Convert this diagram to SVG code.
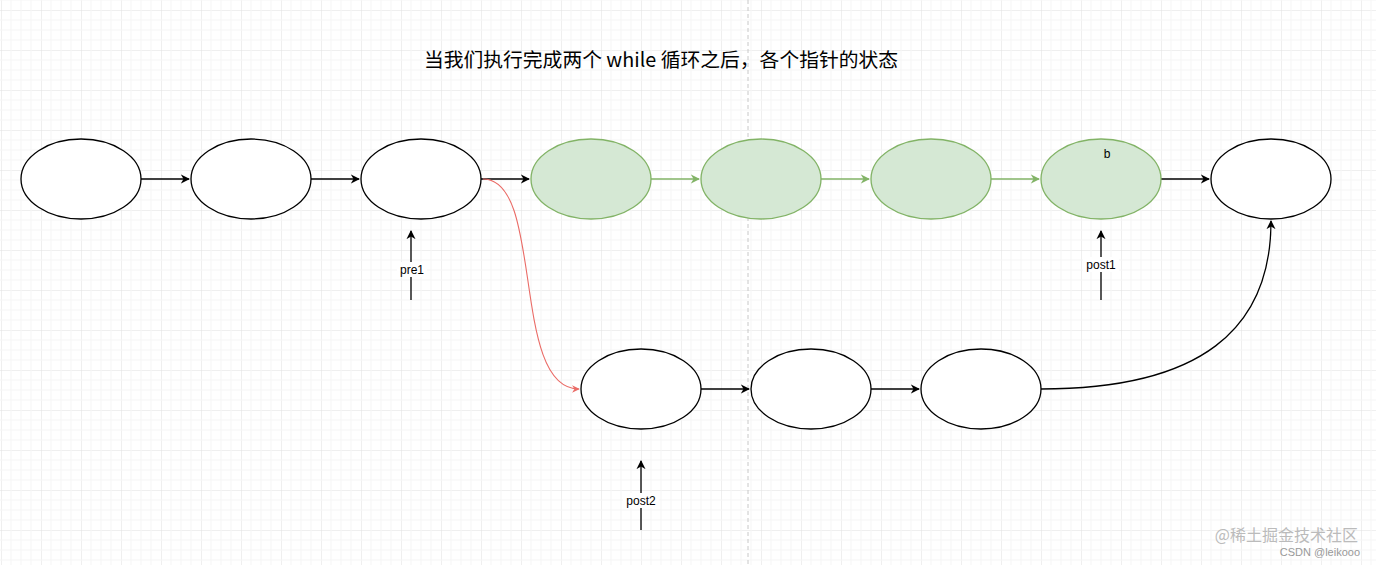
<svg xmlns="http://www.w3.org/2000/svg" width="1376" height="565" viewBox="0 0 1376 565">
<defs>
<pattern id="g" x="1" y="10" width="40" height="40" patternUnits="userSpaceOnUse">
<path d="M0 0H40M0 0V40" fill="none" stroke="#e0e0e0" stroke-width="1"/>
<path d="M0 10H40M0 20H40M0 30H40M10 0V40M20 0V40M30 0V40" fill="none" stroke="#f5f5f5" stroke-width="1"/>
</pattern>
<marker id="a" viewBox="0 0 10 10" refX="9" refY="5" markerWidth="7" markerHeight="7" orient="auto"><path d="M0 0L10 5L0 10L3 5Z" fill="#000"/></marker>
<marker id="ag" viewBox="0 0 10 10" refX="9" refY="5" markerWidth="7" markerHeight="7" orient="auto"><path d="M0 0L10 5L0 10L3 5Z" fill="#82b366"/></marker>
<marker id="ar" viewBox="0 0 10 10" refX="9" refY="5" markerWidth="7" markerHeight="7" orient="auto"><path d="M0 0L10 5L0 10L3 5Z" fill="#ea6b66"/></marker>
</defs>
<style>
.n{fill:#fff;stroke:#000;stroke-width:1.3}
.gn{fill:#d5e8d4;stroke:#82b366;stroke-width:1.3}
.c{fill:none;stroke:#000;stroke-width:1.3;marker-end:url(#a)}
.cg{fill:none;stroke:#82b366;stroke-width:1.3;marker-end:url(#ag)}
.t{font-family:"Liberation Sans","Noto Sans CJK SC",sans-serif;font-size:12px;fill:#000;text-anchor:middle}
</style>
<rect width="1376" height="565" fill="#fff"/>
<rect width="1376" height="565" fill="url(#g)"/>
<line x1="748" y1="0" x2="748" y2="565" stroke="#c8c8c8" stroke-dasharray="4 3"/>
<text x="661" y="67" font-family="'Noto Sans CJK SC',sans-serif" font-size="19.8" text-anchor="middle" fill="#000">当我们执行完成两个 while 循环之后，各个指针的状态</text>
<g id="connectors">
<path class="c" d="M141 179H189"/>
<path class="c" d="M311 179H359"/>
<path class="c" d="M481 179H529"/>
<path class="cg" d="M651 179H699"/>
<path class="cg" d="M821 179H869"/>
<path class="cg" d="M991 179H1039"/>
<path class="c" d="M1161 179H1209"/>
<path class="c" d="M701 389H749"/>
<path class="c" d="M871 389H919"/>
<path d="M483 179C545 179 510 389 579 389" fill="none" stroke="#ea6b66" stroke-width="1.1" marker-end="url(#ar)"/>
<path class="c" d="M1041 389C1200 389 1271 330 1271 221"/>
<path class="c" d="M411 300V231"/>
<path class="c" d="M1101 300V231"/>
<path class="c" d="M641 530V461"/>
</g>
<g id="n1"><ellipse class="n" cx="81" cy="179" rx="60" ry="40"/></g>
<g id="n2"><ellipse class="n" cx="251" cy="179" rx="60" ry="40"/></g>
<g id="n3"><ellipse class="n" cx="421" cy="179" rx="60" ry="40"/></g>
<g id="n4"><ellipse class="gn" cx="591" cy="179" rx="60" ry="40"/></g>
<g id="n5"><ellipse class="gn" cx="761" cy="179" rx="60" ry="40"/></g>
<g id="n6"><ellipse class="gn" cx="931" cy="179" rx="60" ry="40"/></g>
<g id="n7"><ellipse class="gn" cx="1101" cy="179" rx="60" ry="40"/><text class="t" x="1107" y="158">b</text></g>
<g id="n8"><ellipse class="n" cx="1271" cy="179" rx="60" ry="40"/></g>
<g id="n9"><ellipse class="n" cx="641" cy="389" rx="60" ry="40"/></g>
<g id="n10"><ellipse class="n" cx="811" cy="389" rx="60" ry="40"/></g>
<g id="n11"><ellipse class="n" cx="981" cy="389" rx="60" ry="40"/></g>
<g id="l1"><rect x="397" y="262" width="30" height="15" fill="#fff"/><text class="t" x="412" y="274">pre1</text></g>
<g id="l2"><rect x="1083" y="257" width="36" height="15" fill="#fff"/><text class="t" x="1101" y="269">post1</text></g>
<g id="l3"><rect x="623" y="493" width="36" height="15" fill="#fff"/><text class="t" x="641" y="505">post2</text></g>
<text x="1358" y="541" font-family="'Noto Sans CJK SC',sans-serif" font-size="16" text-anchor="end" fill="#bbb">@稀土掘金技术社区</text>
<text x="1360" y="556" font-family="'Liberation Sans',sans-serif" font-size="11" text-anchor="end" fill="#999">CSDN @leikooo</text>
</svg>
